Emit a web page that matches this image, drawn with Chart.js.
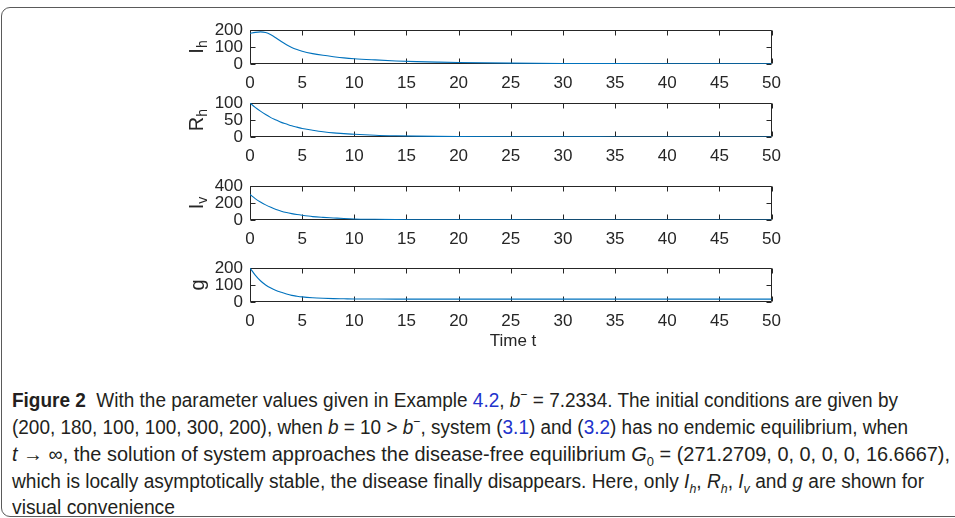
<!DOCTYPE html>
<html><head><meta charset="utf-8">
<script src="https://cdn.jsdelivr.net/npm/chart.js@4"></script>
<style>
html,body{margin:0;padding:0;background:#fff;width:955px;height:518px;overflow:hidden;position:relative;}
#frame{position:absolute;left:1px;top:7px;width:1000px;height:510px;border:1px solid #5a5a5a;border-radius:9px;box-sizing:border-box;}
canvas{position:absolute;}
.ylab{position:absolute;font-family:"Liberation Sans",Arial,sans-serif;font-size:20px;color:#262626;transform:translate(-50%,-50%) rotate(-90deg);white-space:nowrap;line-height:1;}
.ylab sub{font-size:14px;vertical-align:-4px;}
#xlab{position:absolute;font-family:"Liberation Sans",Arial,sans-serif;font-size:17px;color:#262626;transform:translate(-50%,-50%);white-space:nowrap;line-height:1;}
.cap{position:absolute;left:12px;white-space:nowrap;font-family:"Liberation Sans",Arial,sans-serif;font-size:20px;line-height:20px;color:#231f20;transform-origin:0 50%;}
.cap .lk{color:#2233cc;}
.cap sub,.cap sup{font-size:13px;line-height:0;}
</style></head>
<body>
<div id="frame"></div>
<canvas id="c0" width="640" height="90"></canvas>
<canvas id="c1" width="640" height="90"></canvas>
<canvas id="c2" width="640" height="90"></canvas>
<canvas id="c3" width="640" height="90"></canvas>
<div class="ylab" id="l0">I<sub>h</sub></div>
<div class="ylab" id="l1">R<sub>h</sub></div>
<div class="ylab" id="l2">I<sub>v</sub></div>
<div class="ylab" id="l3">g</div>
<div id="xlab">Time t</div>
<div class="cap" data-w="886" style="top:390px"><b>Figure 2</b>&nbsp; With the parameter values given in Example <span class="lk">4.2</span>, <i>b</i><sup>−</sup> = 7.2334. The initial conditions are given by</div>
<div class="cap" data-w="896" style="top:417px">(200, 180, 100, 100, 300, 200), when <i>b</i> = 10 &gt; <i>b</i><sup>−</sup>, system (<span class="lk">3.1</span>) and (<span class="lk">3.2</span>) has no endemic equilibrium, when</div>
<div class="cap" data-w="938" style="top:444px"><i>t</i> → ∞, the solution of system approaches the disease-free equilibrium <i>G</i><sub>0</sub> = (271.2709, 0, 0, 0, 0, 16.6667),</div>
<div class="cap" data-w="912" style="top:471px">which is locally asymptotically stable, the disease finally disappears. Here, only <i>I<sub>h</sub></i>, <i>R<sub>h</sub></i>, <i>I<sub>v</sub></i> and <i>g</i> are shown for</div>
<div class="cap" data-w="163" style="top:497px">visual convenience</div>
<script>
// ---- data ----
const tValues = [0,0.5,1,1.5,2,2.5,3,3.5,4,4.5,5,6,7,8,9,10,12,14,16,18,20,25,30,35,40,45,50];
const seriesIh = [180,186,189,185,172,153,132,113,97,85,75,61,51,43,36,31,24,18,14,11,8.5,5,3,2,1.3,0.9,0.6];
const seriesRh = [100,87,76,66,57,50,43,38,33,29,25,20,15.5,12,10,8,5.2,3.6,2.6,1.9,1.4,0.7,0.4,0.2,0.15,0.1,0.05];
const seriesIv = [300,252,212,178,149,124,104,88,75,64,55,40,31,24,17,12,8,5,3.5,2.5,2,1,0.5,0.3,0.2,0.1,0.1];
const seriesG  = [200,158,125,100,82,68,57,47,39,34,30,25,22,20,19,18,17.4,17,16.9,16.8,16.75,16.7,16.68,16.67,16.67,16.67,16.67];
const xTickLabels = [0,5,10,15,20,25,30,35,40,45,50];
const yTickLabels = [[0,100,200],[0,50,100],[0,200,400],[0,100,200]];
const yMaxes = [200,100,400,200];
const allSeries = [seriesIh, seriesRh, seriesIv, seriesG];

// ---- layout ----
const plotTops = [30,103,186,268];
const plotH = 34, padTop = 24, canvasLeft = 150, yAxisW = 100, xAxisH = 32;
const axisColor = '#262626';
Chart.defaults.font.family = '"Liberation Sans", Arial, sans-serif';

const boxPlugin = {
  id: 'mbox',
  beforeDatasetsDraw(chart) {
    const {ctx, chartArea: a, scales: {x, y}} = chart;
    const L = Math.round(a.left) + 0.5, R = Math.round(a.right) - 0.5;
    const T = Math.round(a.top) + 0.5, B = Math.round(a.bottom) - 0.5;
    const tl = 5;
    ctx.save();
    ctx.strokeStyle = axisColor; ctx.lineWidth = 1;
    ctx.beginPath();
    ctx.rect(L, T, R - L, B - T);
    x.ticks.forEach(t => {
      const px = Math.round(x.getPixelForValue(t.value)) + 0.5;
      ctx.moveTo(px, B); ctx.lineTo(px, B - tl);
      ctx.moveTo(px, T); ctx.lineTo(px, T + tl);
    });
    y.ticks.forEach(t => {
      const py = Math.round(y.getPixelForValue(t.value)) + 0.5;
      ctx.moveTo(L, py); ctx.lineTo(L + tl, py);
      ctx.moveTo(R, py); ctx.lineTo(R - tl, py);
    });
    ctx.stroke();
    ctx.restore();
  }
};

allSeries.forEach((s, i) => {
  const cv = document.getElementById('c' + i);
  cv.style.left = canvasLeft + 'px';
  cv.style.top = (plotTops[i] - padTop) + 'px';
  new Chart(cv, {
    type: 'line',
    data: { datasets: [{
      data: tValues.map((t, j) => ({x: t, y: s[j]})),
      borderColor: '#0072BD', borderWidth: 1.1, pointRadius: 0,
      cubicInterpolationMode: 'monotone', fill: false
    }]},
    options: {
      responsive: false, animation: false, devicePixelRatio: 1,
      layout: { padding: { top: padTop, right: 13, left: 0, bottom: 0 } },
      plugins: { legend: { display: false }, tooltip: { enabled: false } },
      scales: {
        x: { type: 'linear', min: 0, max: 50,
             afterBuildTicks: sc => { sc.ticks = xTickLabels.map(v => ({value: v})); },
             ticks: { font: { size: 17 }, color: axisColor, padding: 9, maxRotation: 0, autoSkip: false },
             grid: { display: false, drawTicks: false }, border: { display: false },
             afterFit: sc => { sc.height = xAxisH; } },
        y: { type: 'linear', min: 0, max: yMaxes[i],
             afterBuildTicks: sc => { sc.ticks = yTickLabels[i].map(v => ({value: v})); },
             ticks: { font: { size: 17 }, color: axisColor, padding: 7, autoSkip: false },
             grid: { display: false, drawTicks: false }, border: { display: false },
             afterFit: sc => { sc.width = yAxisW; } }
      }
    },
    plugins: [boxPlugin]
  });
  const lab = document.getElementById('l' + i);
  lab.style.left = '197px';
  lab.style.top = (plotTops[i] + plotH / 2) + 'px';
});
const xl = document.getElementById('xlab');
xl.style.left = '513px'; xl.style.top = '340px';

function fitCaption() {
  document.querySelectorAll('.cap').forEach(el => {
    el.style.transform = 'none';
    const w = el.getBoundingClientRect().width;
    const target = parseFloat(el.dataset.w);
    el.style.transform = 'scaleX(' + (target / w) + ')';
  });
}
fitCaption();
if (document.fonts && document.fonts.ready) document.fonts.ready.then(fitCaption);
</script>
</body></html>
